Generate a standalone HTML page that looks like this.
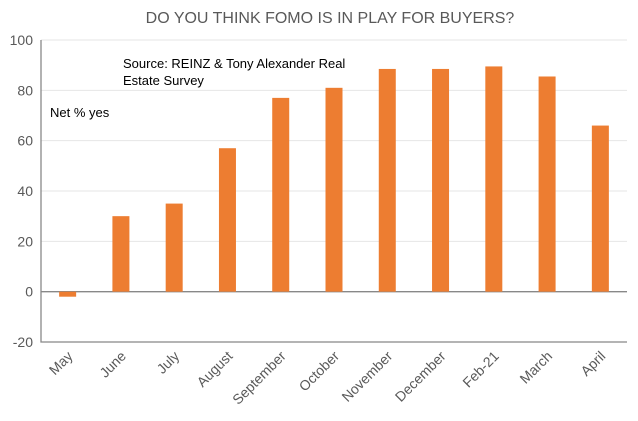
<!DOCTYPE html>
<html><head><meta charset="utf-8"><style>
body{margin:0;background:#fff;font-family:"Liberation Sans",sans-serif}
</style></head><body>
<svg id="chart" width="638" height="416" xmlns="http://www.w3.org/2000/svg" font-family="Liberation Sans, sans-serif">
<text x="330" y="23" text-anchor="middle" font-size="16" fill="#595959">DO YOU THINK FOMO IS IN PLAY FOR BUYERS?</text>
<g id="grid"></g><g id="bars"></g><g id="axes"></g>
<text x="123" y="68" font-size="13" fill="#000">Source: REINZ &amp; Tony Alexander Real</text>
<text x="123" y="85" font-size="13" fill="#000">Estate Survey</text>
<text x="50" y="117" font-size="13" fill="#000">Net % yes</text>
</svg>
<script>
const categories=["May","June","July","August","September","October","November","December","Feb-21","March","April"];
const values=[-2,30,35,57,77,81,88.5,88.5,89.5,85.5,66];
const yTicks=[-20,0,20,40,60,80,100];
const L=41,R=627,T=40,B=342,yMin=-20,yMax=100;
const ns="http://www.w3.org/2000/svg";
const y=v=>B-(v-yMin)/(yMax-yMin)*(B-T);
const band=(R-L)/categories.length;
const xc=i=>L+band*(i+0.5);
function mk(tag,attrs,parent){const e=document.createElementNS(ns,tag);for(const k in attrs)e.setAttribute(k,attrs[k]);document.getElementById(parent).appendChild(e);return e;}
yTicks.forEach(t=>{
  const g=mk('line',{x1:L,x2:R,y1:y(t),y2:y(t),stroke:t===0?'#888':'#e6e6e6','stroke-width':t===0?1.3:1},'grid');
  
  
  const tx=mk('text',{x:L-8,y:y(t)+5,'text-anchor':'end','font-size':14,fill:'#595959'},'axes');
  tx.textContent=t;
  
  
});
values.forEach((v,i)=>{
  const bw=17;
  const r=mk('rect',{x:xc(i)-bw/2,y:Math.min(y(v),y(0)),width:bw,height:Math.abs(y(v)-y(0)),fill:'#ed7d31'},'bars');
  
  
});
const ax=mk('path',{d:`M${L},${T}V${B}H${R}`,fill:'none',stroke:'#888','stroke-width':1.3},'axes');


categories.forEach((c,i)=>{
  const cx=xc(i)+6, cy=B+15;
  const t=mk('text',{x:cx,y:cy,'text-anchor':'end','font-size':14,fill:'#595959',transform:`rotate(-45 ${cx} ${cy})`},'axes');
  t.textContent=c;
  
  
});
</script>
</body></html>
